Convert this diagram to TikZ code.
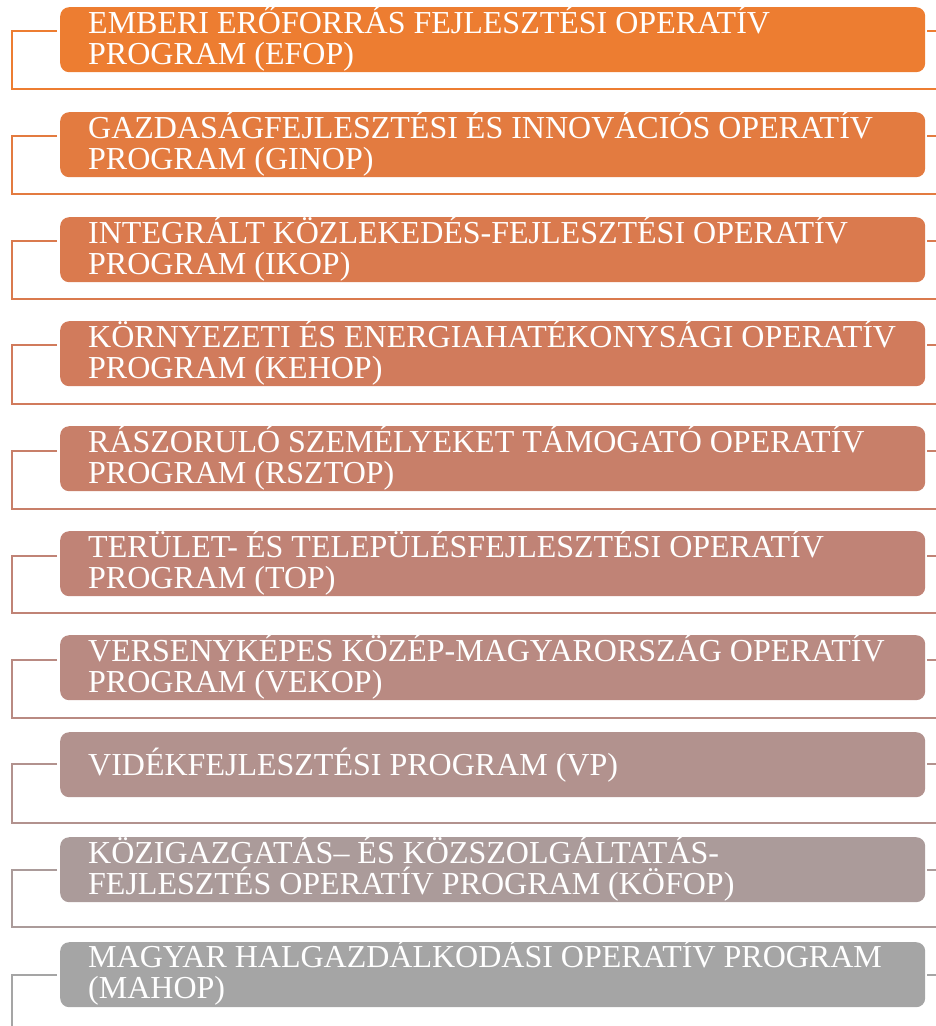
\documentclass[tikz,border=0pt]{standalone}
\usepackage{fontspec}
\setmainfont{Liberation Serif}
\definecolor{ca}{RGB}{237,125,49}
\definecolor{cb}{RGB}{227,123,64}
\definecolor{cc}{RGB}{218,122,78}
\definecolor{cd}{RGB}{209,123,92}
\definecolor{ce}{RGB}{200,127,105}
\definecolor{cf}{RGB}{192,131,118}
\definecolor{cg}{RGB}{185,138,130}
\definecolor{ch}{RGB}{178,146,142}
\definecolor{ci}{RGB}{171,155,154}
\definecolor{cj}{RGB}{165,165,165}
\newcommand{\oprow}[7]{%
  \node[prog, fill=#2] (b#1) at (60,#3) {};
  \node[lbl] (t#1) at (88,#6) {#7};
  \coordinate (l#1) at (57,#4);
  \coordinate (c#1) at (12,#4);
  \coordinate (d#1) at (12,#5);
  \coordinate (e#1) at (936,#5);
  \coordinate (r#1) at (927,#4);
  \coordinate (s#1) at (936,#4);
  \draw[frame, #2] (l#1) -- (c#1) -- (d#1) -- (e#1);
  \draw[frame, #2] (r#1) -- (s#1);
}
\begin{document}
\begin{tikzpicture}[x=1pt,y=-1pt,
  prog/.style={rectangle, rounded corners=9pt, minimum width=865pt, minimum height=65pt, inner sep=0pt, anchor=north west, draw=none},
  frame/.style={line width=2.8pt},
  lbl/.style={anchor=base west, align=left, inner sep=0pt, text=white, font=\fontsize{32}{30.5}\selectfont}]
\useasboundingbox (0,0) rectangle (936,1026);
\oprow{1}{ca}{7}{31}{89}{64}{EMBERI ERŐFORRÁS FEJLESZTÉSI OPERATÍV\\PROGRAM (EFOP)}
\oprow{2}{cb}{112}{136}{194}{169}{GAZDASÁGFEJLESZTÉSI ÉS INNOVÁCIÓS OPERATÍV\\PROGRAM (GINOP)}
\oprow{3}{cc}{217}{241}{299}{274}{INTEGRÁLT KÖZLEKEDÉS-FEJLESZTÉSI OPERATÍV\\PROGRAM (IKOP)}
\oprow{4}{cd}{321}{345}{404}{378}{KÖRNYEZETI ÉS ENERGIAHATÉKONYSÁGI OPERATÍV\\PROGRAM (KEHOP)}
\oprow{5}{ce}{426}{451}{509}{483}{RÁSZORULÓ SZEMÉLYEKET TÁMOGATÓ OPERATÍV\\PROGRAM (RSZTOP)}
\oprow{6}{cf}{531}{556}{613}{588}{TERÜLET- ÉS TELEPÜLÉSFEJLESZTÉSI OPERATÍV\\PROGRAM (TOP)}
\oprow{7}{cg}{635}{660}{718}{692}{VERSENYKÉPES KÖZÉP-MAGYARORSZÁG OPERATÍV\\PROGRAM (VEKOP)}
\oprow{8}{ch}{732}{764}{823}{775}{VIDÉKFEJLESZTÉSI PROGRAM (VP)}
\oprow{9}{ci}{837}{870}{927}{894}{KÖZIGAZGATÁS– ÉS KÖZSZOLGÁLTATÁS-\\FEJLESZTÉS OPERATÍV PROGRAM (KÖFOP)}
\oprow{10}{cj}{942}{975}{1032}{998}{MAGYAR HALGAZDÁLKODÁSI OPERATÍV PROGRAM\\(MAHOP)}
\end{tikzpicture}
\end{document}
